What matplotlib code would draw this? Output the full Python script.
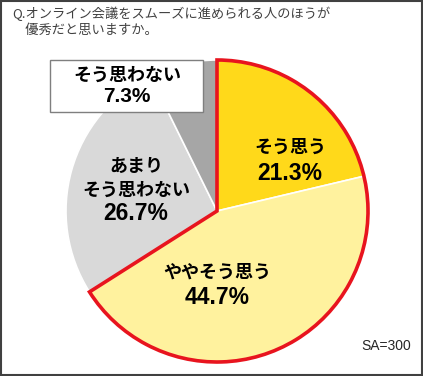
import matplotlib
matplotlib.use("Agg")
import matplotlib.pyplot as plt
from matplotlib.patches import Wedge, Rectangle

plt.rcParams['font.family'] = ['Noto Sans CJK JP', 'DejaVu Sans']

categories = ["そう思う", "ややそう思う", "あまり\nそう思わない", "そう思わない"]
values = [21.3, 44.7, 26.7, 7.3]
colors = ["#FFD91A", "#FFF29E", "#D9D9D9", "#A6A6A6"]
title = "Q.オンライン会議をスムーズに進められる人のほうが\n　優秀だと思いますか。"
note = "SA=300"

W, H = 423, 376
fig = plt.figure(figsize=(W / 100, H / 100), dpi=100)
ax = fig.add_axes([0, 0, 1, 1])

cx, cy, r = 217, H - 211, 151
ax.pie(values, colors=colors, startangle=90, counterclock=False,
       center=(cx, cy), radius=r, frame=True,
       wedgeprops=dict(edgecolor="white", linewidth=1.2))
ax.set_xlim(0, W)
ax.set_ylim(0, H)
ax.set_aspect("equal")
ax.axis("off")

# red outline around "agree" slices
total = sum(values)
agree = values[0] + values[1]
theta2 = 90
theta1 = 90 - agree / total * 360
ax.add_patch(Wedge((cx, cy), r, theta1, theta2, fill=False,
                   edgecolor="#E8141E", linewidth=2.6, zorder=5,
                   joinstyle="miter"))

numfam = ['Liberation Sans', 'DejaVu Sans']

def lab(x, ys, name, val, fs1=13, fs2=16.5, z=6):
    lines = name.split("\n")
    for line, y in zip(lines, ys[:-1]):
        ax.text(x, H - y, line, ha="center", va="center", fontsize=fs1,
                fontweight="bold", color="black", zorder=z)
    ax.text(x, H - ys[-1], f"{val}%", ha="center", va="center",
            fontsize=fs2, fontweight="bold", color="black", zorder=z,
            family=numfam)

lab(290, [147, 173], categories[0], values[0])
lab(217, [272, 298], categories[1], values[1])
lab(136, [166, 190, 214], categories[2], values[2])

# boxed label for last category
ax.add_patch(Rectangle((50, H - 112), 153, 52, facecolor="white",
                       edgecolor="#7F7F7F", linewidth=1.0, zorder=6))
lab(127, [75, 97], categories[3], values[3], fs2=15, z=7)

# title & note
ax.text(12, H - 7, title, ha="left", va="top", fontsize=9.5,
        color="#404040", linespacing=1.25)
ax.text(411, H - 346, note, ha="right", va="center", fontsize=10,
        color="#262626", family=numfam)

# figure border
ax.add_patch(Rectangle((0.75, 0.75), W - 1.5, H - 1.5, fill=False,
                       edgecolor="#404040", linewidth=1.5, zorder=10))

fig.savefig("out.png", dpi=100)
